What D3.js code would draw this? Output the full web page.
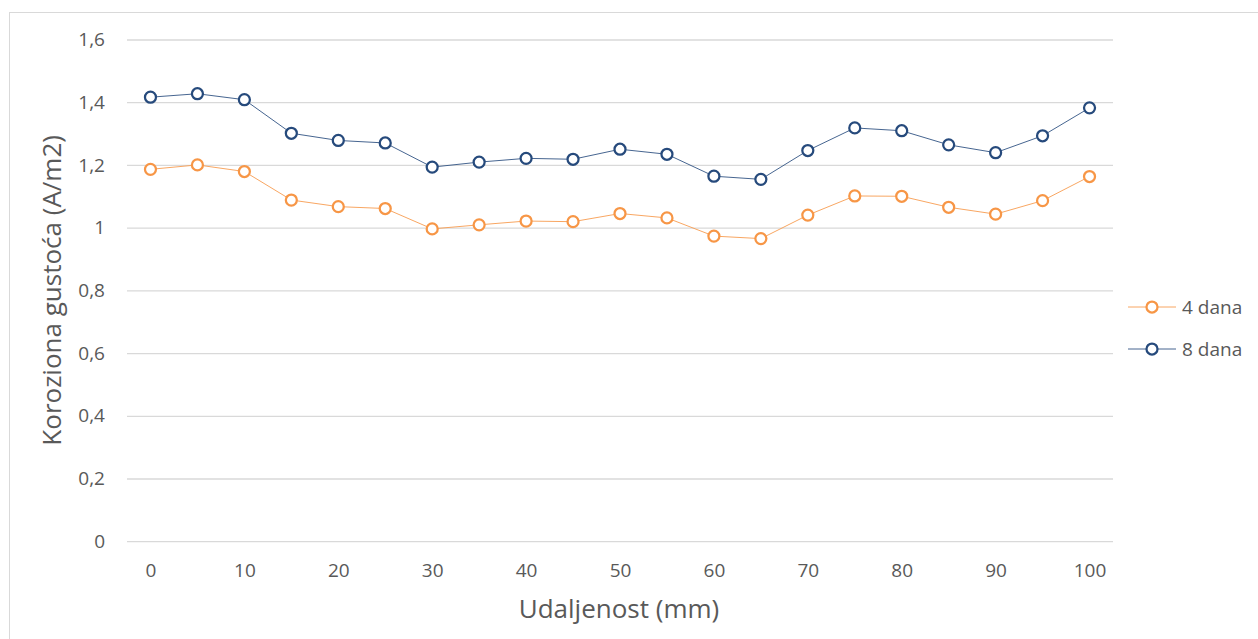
<!DOCTYPE html>
<html>
<head>
<meta charset="utf-8">
<script src="https://cdn.jsdelivr.net/npm/d3@7"></script>
<style>
  html, body { margin: 0; padding: 0; background: #fff; }
  svg text { font-family: "Open Sans", "Noto Sans", sans-serif; fill: #595959; }
</style>
</head>
<body>
<svg id="chart" width="1258" height="639"></svg>
<script>
const categories = [0,5,10,15,20,25,30,35,40,45,50,55,60,65,70,75,80,85,90,95,100];
const xTickLabels = [0,10,20,30,40,50,60,70,80,90,100];
const yTicks = [0,0.2,0.4,0.6,0.8,1,1.2,1.4,1.6];
const series4 = [1.186,1.200,1.179,1.088,1.067,1.061,0.996,1.009,1.021,1.019,1.045,1.031,0.973,0.965,1.040,1.101,1.100,1.065,1.043,1.086,1.163];
const series8 = [1.416,1.427,1.408,1.301,1.278,1.270,1.193,1.209,1.221,1.218,1.250,1.234,1.164,1.154,1.246,1.318,1.309,1.264,1.239,1.293,1.382];
const seriesNames = ["4 dana", "8 dana"];
const seriesColors = ["#F79646", "#264A7C"];

const svg = d3.select("#chart");
// outer border
svg.append("rect").attr("x", 9.5).attr("y", 12.5).attr("width", 1300).attr("height", 700)
  .attr("fill", "none").attr("stroke", "#D9D9D9").attr("stroke-width", 1);

const plot = {left: 127, right: 1113, top: 39.5, bottom: 541.2};
const x = d3.scalePoint().domain(categories).range([plot.left, plot.right]).padding(0.5);
const y = d3.scaleLinear().domain([0, 1.6]).range([plot.bottom, plot.top]);

const fmt = v => String(+v.toFixed(1)).replace(".", ",");

// gridlines + y labels
const yAxis = d3.axisLeft(y).tickValues(yTicks).tickSize(-(plot.right - plot.left)).tickPadding(22).tickFormat(fmt);
const gy = svg.append("g").attr("transform", `translate(${plot.left},0)`).call(yAxis);
gy.select(".domain").remove();
gy.selectAll(".tick line").attr("stroke", "#D9D9D9").attr("stroke-width", 1.3);
gy.selectAll(".tick text").attr("font-size", 19).attr("fill", "#595959");

const xAxis = d3.axisBottom(x).tickValues(xTickLabels).tickSize(0).tickPadding(22);
const gx = svg.append("g").attr("transform", `translate(0,${plot.bottom})`).call(xAxis);
gx.select(".domain").remove();
gx.selectAll(".tick text").attr("font-size", 19).attr("fill", "#595959");

// axis titles
svg.append("text").attr("x", (plot.left + plot.right)/2 - 1).attr("y", 618)
  .attr("text-anchor", "middle").attr("font-size", 26).text("Udaljenost (mm)");
svg.append("text").attr("transform", `translate(61,${(plot.top+plot.bottom)/2}) rotate(-90)`)
  .attr("text-anchor", "middle").attr("font-size", 26).text("Koroziona gustoća (A/m2)");

const line = d3.line().x((d,i) => x(categories[i])).y(d => y(d));
[series4, series8].forEach((s, k) => {
  svg.append("path").datum(s).attr("d", line).attr("fill", "none")
    .attr("stroke", seriesColors[k]).attr("stroke-width", 1).attr("stroke-opacity", 0.85);
  svg.selectAll(null).data(s).enter().append("circle")
    .attr("cx", (d,i) => x(categories[i])).attr("cy", d => y(d)).attr("r", 5.5)
    .attr("fill", "#fff").attr("stroke", seriesColors[k]).attr("stroke-width", 2.25);
});

// legend
const legY = [307, 349];
seriesNames.forEach((n, k) => {
  const g = svg.append("g");
  g.append("line").attr("x1", 1128).attr("x2", 1176).attr("y1", legY[k]).attr("y2", legY[k])
    .attr("stroke", seriesColors[k]).attr("stroke-width", 1).attr("stroke-opacity", 0.85);
  g.append("circle").attr("cx", 1152).attr("cy", legY[k]).attr("r", 5.5)
    .attr("fill", "#fff").attr("stroke", seriesColors[k]).attr("stroke-width", 2.25);
  g.append("text").attr("x", 1182).attr("y", legY[k]).attr("dy", "0.35em")
    .attr("font-size", 19).text(n);
});
</script>
</body>
</html>
